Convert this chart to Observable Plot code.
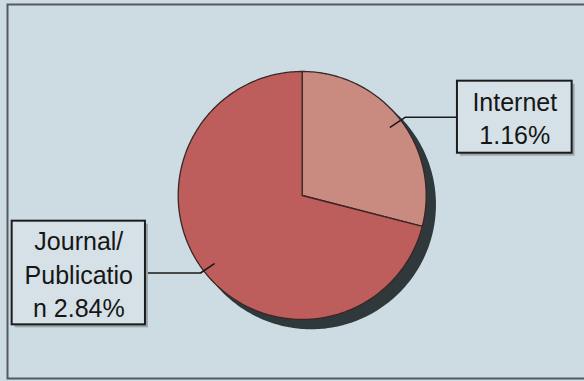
<!DOCTYPE html>
<html>
<head>
<meta charset="utf-8">
<script src="https://cdn.jsdelivr.net/npm/d3@7"></script>
<script src="https://cdn.jsdelivr.net/npm/@observablehq/plot@0.6"></script>
<style>
  html, body { margin: 0; padding: 0; background: #c9d9e0; }
  #chart { width: 584px; height: 381px; }
</style>
</head>
<body>
<div id="chart"></div>
<script>
// ---- data ----
const categories = ["Internet", "Journal/Publication"];
const values = [1.16, 2.84];
const labelTexts = ["Internet\n1.16%", "Journal/\nPublicatio\nn 2.84%"];
const sliceColors = ["#c98a80", "#bd5d5c"];

// ---- layout (units: pie radius = 1) ----
const W = 584, H = 381, R = 124, CX = 301.7, CY = 195;
const labelLayout = [
  {x1: 1.252, x2: 2.177, y1: 0.341, y2: 0.922, bendX: 0.833},
  {x1: -2.339, x2: -1.264, y1: -1.043, y2: -0.207, bendX: -0.82}
];

const pie = d3.pie().sort(null).value(d => d.value);
const arcs = pie(categories.map((c, i) => ({name: c, value: values[i]})));

// slice outlines (angle measured clockwise from 12 o'clock)
const slicePts = [];
arcs.forEach(a => {
  slicePts.push({name: a.data.name, x: 0, y: 0});
  const n = Math.max(2, Math.ceil((a.endAngle - a.startAngle) / (Math.PI / 180)));
  for (let k = 0; k <= n; k++) {
    const t = a.startAngle + (a.endAngle - a.startAngle) * k / n;
    slicePts.push({name: a.data.name, x: Math.sin(t), y: Math.cos(t)});
  }
  slicePts.push({name: a.data.name, x: 0, y: 0});
});
const shadowPts = slicePts.map(p => ({...p, name: "shadow"}));

const labels = arcs.map((a, i) => {
  const L = labelLayout[i];
  const mid = (a.startAngle + a.endAngle) / 2;
  const cy = (L.y1 + L.y2) / 2;
  const edgeX = L.bendX > 0 ? L.x1 : L.x2;
  return {
    name: a.data.name, text: labelTexts[i], ...L,
    cx: (L.x1 + L.x2) / 2, cy,
    leader: [
      {name: a.data.name, x: 0.9 * Math.sin(mid), y: 0.9 * Math.cos(mid)},
      {name: a.data.name, x: L.bendX, y: cy},
      {name: a.data.name, x: edgeX, y: cy}
    ]
  };
});
const leaderPts = labels.flatMap(l => l.leader);

const chart = Plot.plot({
  width: W, height: H, margin: 0,
  style: {background: "#cddce3", fontFamily: "'Liberation Sans', Arial, sans-serif"},
  x: {domain: [-CX / R, (W - CX) / R], axis: null},
  y: {domain: [-(H - CY) / R, CY / R], axis: null},
  color: {domain: categories, range: sliceColors},
  marks: [
    Plot.frame({stroke: "#55595c", strokeWidth: 2, insetLeft: 7, insetTop: 4, insetBottom: 3, insetRight: -6}),
    // pie shadow
    Plot.line(shadowPts, {x: "x", y: "y", z: "name", fill: "#2f393b", stroke: "#2f393b", dx: 9, dy: 9, curve: "linear-closed"}),
    // slices
    Plot.line(slicePts, {x: "x", y: "y", z: "name", fill: "name", stroke: "#3a2626", strokeWidth: 1.3, curve: "linear-closed"}),
    // leaders
    Plot.line(leaderPts, {x: "x", y: "y", z: "name", stroke: "#1a1a1a", strokeWidth: 1.6}),
    // label box shadow
    Plot.rect(labels, {x1: "x1", x2: "x2", y1: "y1", y2: "y2", fill: "#9aa6ab", dx: 3, dy: 3}),
    // label boxes
    Plot.rect(labels, {x1: "x1", x2: "x2", y1: "y1", y2: "y2", fill: "#d5e1e7", stroke: "#1c1c1c", strokeWidth: 2}),
    Plot.text(labels, {x: "cx", y: "cy", text: "text", fontSize: 25, lineHeight: 1.33, fill: "#161616", textAnchor: "middle", lineAnchor: "middle"})
  ]
});
document.getElementById("chart").appendChild(chart);
</script>
</body>
</html>
